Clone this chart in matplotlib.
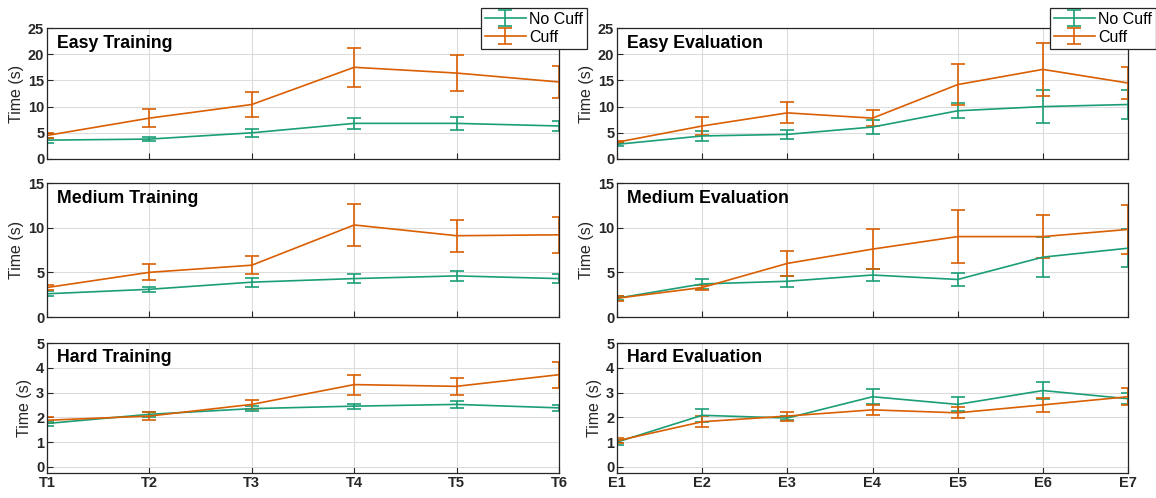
import matplotlib
matplotlib.use("Agg")
import matplotlib.pyplot as plt

plt.rcParams['font.family'] = ['Liberation Sans', 'DejaVu Sans']

# colours
green = '#1b9e77'
orange = '#d95f02'

train_labels = ['T1', 'T2', 'T3', 'T4', 'T5', 'T6']
eval_labels = ['E1', 'E2', 'E3', 'E4', 'E5', 'E6', 'E7']

# Easy
easy_train_nocuff = [3.6, 3.8, 5.0, 6.8, 6.8, 6.3]
easy_train_nocuff_err = [0.5, 0.4, 0.8, 1.1, 1.2, 1.0]
easy_train_cuff = [4.5, 7.8, 10.4, 17.5, 16.4, 14.7]
easy_train_cuff_err = [0.5, 1.7, 2.3, 3.7, 3.5, 3.0]

easy_eval_nocuff = [2.8, 4.4, 4.7, 6.1, 9.2, 10.0, 10.4]
easy_eval_nocuff_err = [0.3, 0.9, 0.9, 1.4, 1.4, 3.1, 2.8]
easy_eval_cuff = [3.2, 6.3, 8.8, 7.8, 14.2, 17.1, 14.5]
easy_eval_cuff_err = [0.2, 1.7, 2.0, 1.5, 3.9, 5.0, 3.0]

# Medium
med_train_nocuff = [2.6, 3.1, 3.9, 4.3, 4.6, 4.3]
med_train_nocuff_err = [0.3, 0.3, 0.5, 0.5, 0.6, 0.5]
med_train_cuff = [3.3, 5.0, 5.8, 10.3, 9.1, 9.2]
med_train_cuff_err = [0.3, 0.9, 1.0, 2.3, 1.8, 2.0]

med_eval_nocuff = [2.1, 3.7, 4.0, 4.7, 4.2, 6.7, 7.7]
med_eval_nocuff_err = [0.2, 0.6, 0.6, 0.7, 0.7, 2.2, 2.1]
med_eval_cuff = [2.1, 3.3, 6.0, 7.6, 9.0, 9.0, 9.8]
med_eval_cuff_err = [0.3, 0.3, 1.4, 2.2, 3.0, 2.4, 2.7]

# Hard
hard_train_nocuff = [1.75, 2.12, 2.35, 2.45, 2.52, 2.38]
hard_train_nocuff_err = [0.12, 0.1, 0.1, 0.1, 0.15, 0.12]
hard_train_cuff = [1.88, 2.05, 2.52, 3.32, 3.25, 3.72]
hard_train_cuff_err = [0.12, 0.15, 0.17, 0.4, 0.35, 0.53]

hard_eval_nocuff = [1.0, 2.08, 1.97, 2.83, 2.52, 3.08, 2.75]
hard_eval_nocuff_err = [0.1, 0.27, 0.08, 0.3, 0.28, 0.35, 0.22]
hard_eval_cuff = [1.05, 1.82, 2.05, 2.3, 2.18, 2.5, 2.83]
hard_eval_cuff_err = [0.1, 0.22, 0.18, 0.2, 0.22, 0.28, 0.35]

panels = [
    ("Easy Training", train_labels, easy_train_nocuff, easy_train_nocuff_err, easy_train_cuff, easy_train_cuff_err, (0, 25), [0, 5, 10, 15, 20, 25]),
    ("Easy Evaluation", eval_labels, easy_eval_nocuff, easy_eval_nocuff_err, easy_eval_cuff, easy_eval_cuff_err, (0, 25), [0, 5, 10, 15, 20, 25]),
    ("Medium Training", train_labels, med_train_nocuff, med_train_nocuff_err, med_train_cuff, med_train_cuff_err, (0, 15), [0, 5, 10, 15]),
    ("Medium Evaluation", eval_labels, med_eval_nocuff, med_eval_nocuff_err, med_eval_cuff, med_eval_cuff_err, (0, 15), [0, 5, 10, 15]),
    ("Hard Training", train_labels, hard_train_nocuff, hard_train_nocuff_err, hard_train_cuff, hard_train_cuff_err, (-0.25, 5), [0, 1, 2, 3, 4, 5]),
    ("Hard Evaluation", eval_labels, hard_eval_nocuff, hard_eval_nocuff_err, hard_eval_cuff, hard_eval_cuff_err, (-0.25, 5), [0, 1, 2, 3, 4, 5]),
]

fig = plt.figure(figsize=(11.56, 4.98), dpi=100)
W, H = 1156, 498
col_x = [(47, 559), (617, 1128)]
row_y = [(28, 159), (183, 317), (343, 473)]

for i, (title, labels, nc, nc_err, c, c_err, ylim, yticks) in enumerate(panels):
    row, col = i // 2, i % 2
    x0, x1 = col_x[col]
    y0, y1 = row_y[row]
    ax = fig.add_axes([x0 / W, 1 - y1 / H, (x1 - x0) / W, (y1 - y0) / H])
    x = list(range(1, len(labels) + 1))
    ax.errorbar(x, nc, yerr=nc_err, color=green, lw=1.2, capsize=5, capthick=1.2, elinewidth=1.2, label='No Cuff')
    ax.errorbar(x, c, yerr=c_err, color=orange, lw=1.2, capsize=5, capthick=1.2, elinewidth=1.2, label='Cuff')
    ax.set_xlim(1, len(labels))
    ax.set_ylim(*ylim)
    ax.set_yticks(yticks)
    ax.set_xticks(x)
    if row == 2:
        ax.set_xticklabels(labels, fontweight='bold')
    else:
        ax.set_xticklabels([])
    for lab in ax.get_yticklabels():
        lab.set_fontweight('bold')
    ax.tick_params(direction='in', length=4, labelsize=10.5, colors='#262626', width=0.8, pad=2)
    ax.grid(True, color='#dcdcdc', lw=0.8)
    ax.set_axisbelow(True)
    for sp in ax.spines.values():
        sp.set_color('#262626')
        sp.set_linewidth(0.9)
    ax.set_ylabel('Time (s)', fontsize=11.5, color='#262626', labelpad=3)
    ax.text(0.02, 0.885, title, transform=ax.transAxes, fontsize=12.8, fontweight='bold', va='center', ha='left')
    if row == 0:
        leg = ax.legend(loc='upper right', bbox_to_anchor=(1.055, 1.155),
                        fontsize=11.5, frameon=True, fancybox=False, framealpha=1,
                        edgecolor='#262626', borderpad=0.25, handlelength=2.6,
                        handletextpad=0.2, labelspacing=0.2, borderaxespad=0)
        leg.get_frame().set_linewidth(0.9)

fig.savefig('out.png', dpi=100)
